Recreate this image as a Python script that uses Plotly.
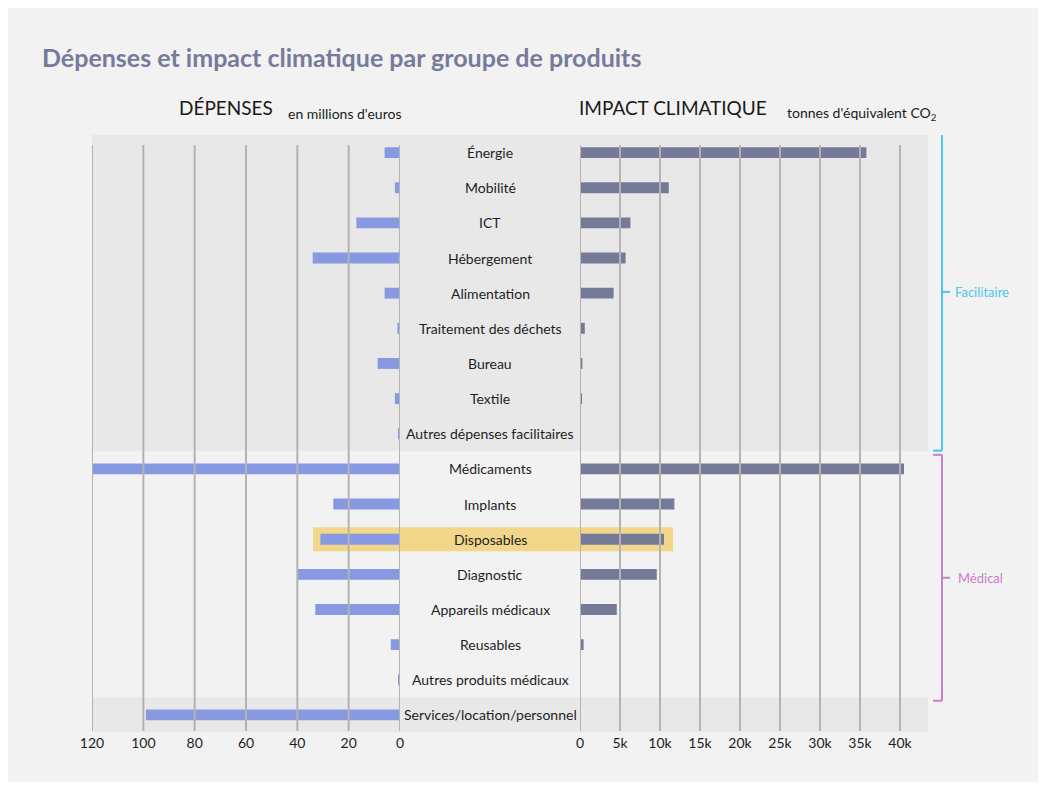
import plotly.graph_objects as go

# figure sits inside the page body (8px margin); coordinates below are page pixels
W, H = 1030, 774
OX, OY = 8, 8

categories = ["Énergie", "Mobilité", "ICT", "Hébergement", "Alimentation",
              "Traitement des déchets", "Bureau", "Textile", "Autres dépenses facilitaires",
              "Médicaments", "Implants", "Disposables", "Diagnostic", "Appareils médicaux",
              "Reusables", "Autres produits médicaux", "Services/location/personnel"]
spending_meur = [6, 2, 17, 34, 6, 1, 8.7, 2, 0.5,
                 120, 26, 31, 40, 33, 3.6, 0.5, 99]
impact_tco2 = [35800, 11100, 6300, 5700, 4200, 600, 300, 150, 100,
               40500, 11800, 10500, 9600, 4600, 450, 100, 0]
spend_ticks = [0, 20, 40, 60, 80, 100, 120]
impact_ticks = [0, 5000, 10000, 15000, 20000, 25000, 30000, 35000, 40000]
impact_ticktext = ["0", "5k", "10k", "15k", "20k", "25k", "30k", "35k", "40k"]
highlight = "Disposables"

FONT = "Lato"
C_LEFT = "#8799e0"
C_RIGHT = "#757a99"
C_GRID = "#b3b3b3"
C_FAC = "#4dc6ee"
C_MED = "#c97fcb"


def px(x):
    return (x - OX) / W


def py(y):
    return 1 - (y - OY) / H


idx = list(range(len(categories)))

fig = go.Figure()
fig.add_trace(go.Bar(x=spending_meur, y=idx, orientation="h", xaxis="x", yaxis="y",
                     width=0.31, marker=dict(color=C_LEFT, line=dict(width=0)),
                     hoverinfo="skip", showlegend=False))
fig.add_trace(go.Bar(x=impact_tco2, y=idx, orientation="h", xaxis="x2", yaxis="y",
                     width=0.31, marker=dict(color=C_RIGHT, line=dict(width=0)),
                     hoverinfo="skip", showlegend=False))

shapes = []
# shaded groups
shapes.append(dict(type="rect", xref="paper", yref="y", x0=px(92), x1=px(928),
                   y0=-0.5, y1=8.5, fillcolor="#e8e8e8", line=dict(width=0), layer="below"))
shapes.append(dict(type="rect", xref="paper", yref="y", x0=px(92), x1=px(928),
                   y0=15.5, y1=16.5, fillcolor="#e8e8e8", line=dict(width=0), layer="below"))
# highlight row
hi = categories.index(highlight)
shapes.append(dict(type="rect", xref="paper", yref="y", x0=px(313), x1=px(673),
                   y0=hi - 0.34, y1=hi + 0.34, fillcolor="#f2d68a", line=dict(width=0), layer="below"))
# gridlines above bars
for v in spend_ticks:
    shapes.append(dict(type="line", xref="x", yref="paper", x0=v, x1=v, y0=py(731), y1=py(145),
                       line=dict(color=C_GRID, width=2), layer="above"))
for v in impact_ticks:
    shapes.append(dict(type="line", xref="x2", yref="paper", x0=v, x1=v, y0=py(731), y1=py(145),
                       line=dict(color=C_GRID, width=2), layer="above"))


def bracket(y0, y1, color):
    out = []
    xa, xb = px(933), px(942)
    out.append(dict(type="line", xref="paper", yref="y", x0=xa, x1=xb, y0=y0, y1=y0, line=dict(color=color, width=2)))
    out.append(dict(type="line", xref="paper", yref="y", x0=xb, x1=xb, y0=y0, y1=y1, line=dict(color=color, width=2)))
    out.append(dict(type="line", xref="paper", yref="y", x0=xa, x1=xb, y0=y1, y1=y1, line=dict(color=color, width=2)))
    ym = (y0 + y1) / 2
    out.append(dict(type="line", xref="paper", yref="y", x0=xb, x1=px(950), y0=ym, y1=ym, line=dict(color=color, width=2)))
    return out, ym


b1, ym1 = bracket(-0.55, 8.48, C_FAC)
b2, ym2 = bracket(8.6, 15.6, C_MED)
shapes += b1 + b2

annotations = []
for i, c in enumerate(categories):
    annotations.append(dict(x=px(490), y=i, xref="paper", yref="y", text=c, showarrow=False,
                            xanchor="center", yanchor="middle",
                            font=dict(family=FONT, size=14, color="#1e1e1e")))
annotations.append(dict(x=px(953), y=ym1, xref="paper", yref="y", text="Facilitaire", showarrow=False,
                        xanchor="left", yanchor="middle", font=dict(family=FONT, size=13, color=C_FAC)))
annotations.append(dict(x=px(956), y=ym2, xref="paper", yref="y", text="Médical", showarrow=False,
                        xanchor="left", yanchor="middle", font=dict(family=FONT, size=13, color=C_MED)))
# title and headers
annotations.append(dict(x=px(40), y=py(57), xref="paper", yref="paper", text="<b>Dépenses et impact climatique par groupe de produits</b>",
                        showarrow=False, xanchor="left", yanchor="middle",
                        font=dict(family=FONT, size=25, color="#767b9b")))
annotations.append(dict(x=px(177), y=py(108), xref="paper", yref="paper", text="DÉPENSES",
                        showarrow=False, xanchor="left", yanchor="middle",
                        font=dict(family=FONT, size=19, color="#1a1a1a")))
annotations.append(dict(x=px(286), y=py(113), xref="paper", yref="paper", text="en millions d'euros",
                        showarrow=False, xanchor="left", yanchor="middle",
                        font=dict(family=FONT, size=14, color="#1a1a1a")))
annotations.append(dict(x=px(577), y=py(108), xref="paper", yref="paper", text="IMPACT CLIMATIQUE",
                        showarrow=False, xanchor="left", yanchor="middle",
                        font=dict(family=FONT, size=19, color="#1a1a1a")))
annotations.append(dict(x=px(785), y=py(113), xref="paper", yref="paper", text="tonnes d'équivalent CO<sub>2</sub>",
                        showarrow=False, xanchor="left", yanchor="middle",
                        font=dict(family=FONT, size=14, color="#1a1a1a")))

axis_common = dict(showgrid=False, zeroline=False, showline=False, ticks="", automargin=False,
                   tickfont=dict(family=FONT, size=14, color="#1e1e1e"), fixedrange=True)

fig.update_layout(
    width=W, height=H, margin=dict(l=0, r=0, t=0, b=0, pad=0, autoexpand=False),
    paper_bgcolor="#f2f2f2", plot_bgcolor="rgba(0,0,0,0)",
    barmode="overlay", showlegend=False,
    xaxis=dict(domain=[px(92), px(400)], range=[120, 0], anchor="y",
               tickvals=spend_ticks, ticktext=[str(v) for v in spend_ticks], **axis_common),
    xaxis2=dict(domain=[px(580), px(928)], range=[0, 43500], anchor="y",
                tickvals=impact_ticks, ticktext=impact_ticktext, **axis_common),
    yaxis=dict(domain=[py(732.5), py(135)], range=[16.5, -0.5], visible=False,
               automargin=False, fixedrange=True),
    shapes=shapes, annotations=annotations,
)

fig.write_html("out.html")
